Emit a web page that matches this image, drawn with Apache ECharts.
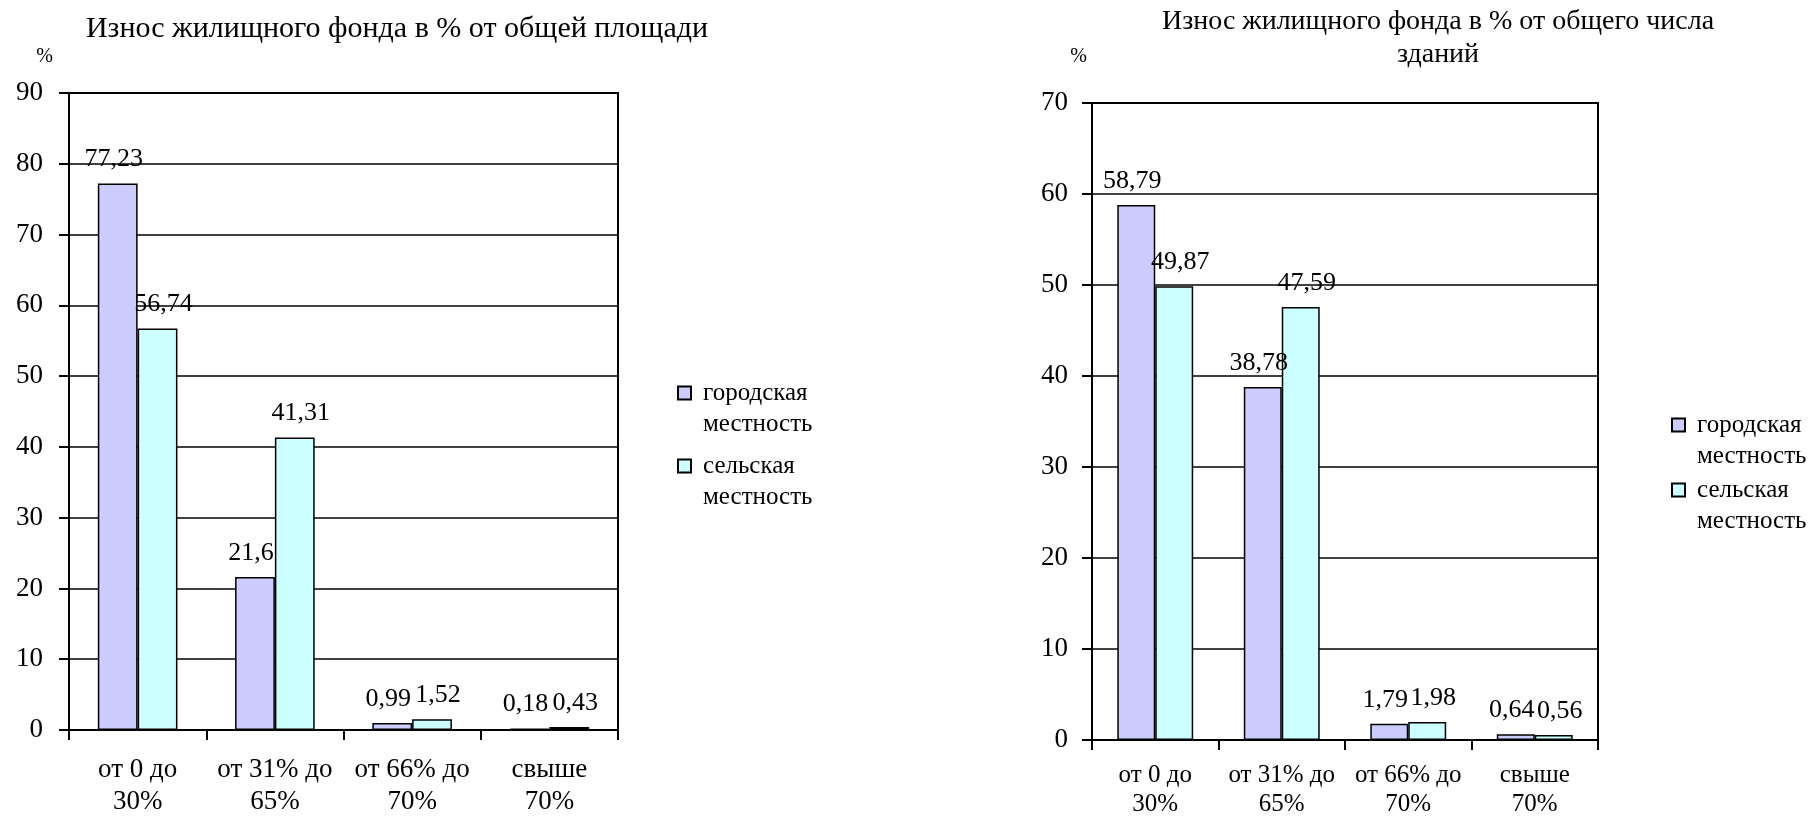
<!DOCTYPE html>
<html>
<head>
<meta charset="utf-8">
<script src="https://cdn.jsdelivr.net/npm/echarts@6/dist/echarts.min.js"></script>
<style>
  html, body { margin: 0; padding: 0; background: #fff; }
  #chart { width: 1812px; height: 817px; }
</style>
</head>
<body>
<div id="chart"></div>
<script>
// Chart data
const categories = ['от 0 до\n30%', 'от 31% до\n65%', 'от 66% до\n70%', 'свыше\n70%'];
const seriesNames = ['городская местность', 'сельская местность'];

const areaUrban = [77.23, 21.6, 0.99, 0.18];
const areaRural = [56.74, 41.31, 1.52, 0.43];

const buildingsUrban = [58.79, 38.78, 1.79, 0.64];
const buildingsRural = [49.87, 47.59, 1.98, 0.56];

const titleLeft = 'Износ жилищного фонда в % от общей площади';
const titleRight = 'Износ жилищного фонда в % от общего числа\nзданий';

const FONT = '"Liberation Serif", "DejaVu Serif", serif';
const colors = ['#ccccff', '#ccffff'];
// urban labels lean left, rural labels lean right, so neighbours don't collide
const labelShift = [-4, 6];

// square marker sitting at the top of a taller box, so it lines up with the first text line
const LEGEND_ICON = 'path://M0,0L13,0L13,13L0,13Z M20,45L20,45';

function fmt(p) {
    return String(p.value).replace('.', ',');
}

function barSeries(name, data, idx, axisIdx) {
    return {
        name: name,
        type: 'bar',
        xAxisIndex: axisIdx,
        yAxisIndex: axisIdx,
        data: data,
        barGap: 0,
        barCategoryGap: axisIdx === 0 ? '42%' : '40%',
        itemStyle: { color: colors[idx], borderColor: '#000', borderWidth: 1.5 },
        label: {
            show: true,
            position: 'top',
            distance: 11,
            offset: [labelShift[idx], 0],
            formatter: fmt,
            fontFamily: FONT,
            fontSize: 26,
            color: '#000'
        }
    };
}

function xAxis(gridIndex, fontSize, lineHeight, margin) {
    return {
        type: 'category',
        gridIndex: gridIndex,
        data: categories,
        axisLine: { lineStyle: { color: '#000', width: 2 } },
        axisTick: { show: true, length: 10, lineStyle: { color: '#000', width: 2 } },
        axisLabel: {
            interval: 0,
            margin: margin,
            fontFamily: FONT,
            fontSize: fontSize,
            lineHeight: lineHeight,
            color: '#000'
        }
    };
}

function yAxis(gridIndex, max, nameGap, namePad, margin) {
    return {
        type: 'value',
        gridIndex: gridIndex,
        min: 0,
        max: max,
        interval: 10,
        name: '%',
        nameLocation: 'end',
        nameGap: nameGap,
        nameTextStyle: { fontFamily: FONT, fontSize: 20, color: '#000', align: 'right', padding: [0, namePad, 0, 0] },
        axisLine: { show: true, lineStyle: { color: '#000', width: 2 } },
        axisTick: { show: true, length: 10, lineStyle: { color: '#000', width: 2 } },
        axisLabel: { margin: margin, fontFamily: FONT, fontSize: 27, color: '#000' },
        splitLine: { show: true, lineStyle: { color: '#000', width: 1.5 } }
    };
}

function legend(left, top, gap) {
    return {
        orient: 'vertical',
        left: left,
        top: top,
        itemWidth: 20,
        itemHeight: 45,
        itemGap: gap,
        icon: LEGEND_ICON,
        data: seriesNames,
        formatter: function (name) { return name.replace(' ', '\n'); },
        textStyle: {
            fontFamily: FONT,
            fontSize: 25,
            lineHeight: 31,
            color: '#000'
        }
    };
}

const chart = echarts.init(document.getElementById('chart'));
chart.setOption({
    backgroundColor: '#fff',
    animation: false,
    title: [
        {
            text: titleLeft,
            left: 392, top: 9, textAlign: 'center',
            textStyle: { fontFamily: FONT, fontSize: 30, fontWeight: 'normal', color: '#000' }
        },
        {
            text: titleRight,
            left: 1433, top: 0, textAlign: 'center',
            textStyle: { fontFamily: FONT, fontSize: 28, fontWeight: 'normal', color: '#000', lineHeight: 33 }
        }
    ],
    legend: [legend(672, 373, 11), legend(1666, 405, 3)],
    grid: [
        { left: 69, top: 93, width: 549, height: 637, outerBoundsMode: 'none', show: true, borderColor: '#000', borderWidth: 2, backgroundColor: 'transparent' },
        { left: 1092, top: 103, width: 506, height: 637, outerBoundsMode: 'none', show: true, borderColor: '#000', borderWidth: 2, backgroundColor: 'transparent' }
    ],
    xAxis: [xAxis(0, 27, 32, 24), xAxis(1, 25, 29, 21)],
    yAxis: [yAxis(0, 90, 26, 16, 26), yAxis(1, 70, 36, 5, 24)],
    series: [
        barSeries(seriesNames[0], areaUrban, 0, 0),
        barSeries(seriesNames[1], areaRural, 1, 0),
        barSeries(seriesNames[0], buildingsUrban, 0, 1),
        barSeries(seriesNames[1], buildingsRural, 1, 1)
    ]
});
</script>
</body>
</html>
